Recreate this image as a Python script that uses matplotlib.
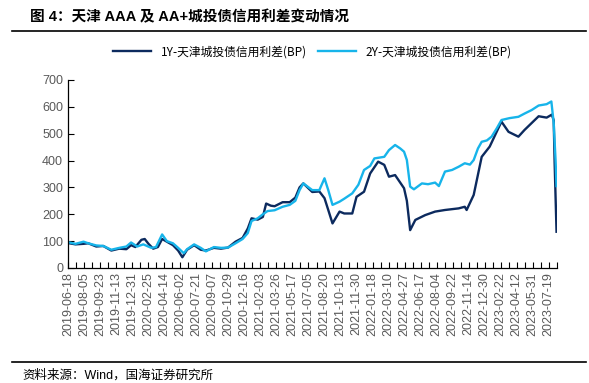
import numpy as np
import matplotlib.pyplot as plt

plt.rcParams['font.family'] = ['Liberation Sans', 'Noto Sans CJK SC']

# Données (index de jour de bourse, valeurs en BP)
jours_2y = [2, 15, 32, 42, 59, 74, 91, 108, 123, 133, 146, 159, 176, 186, 199, 209,
            222, 233, 245, 252, 267, 281, 292, 309, 324, 339, 355, 370, 381, 389,
            402, 413, 423, 438, 455, 470, 482, 491, 499, 518, 533, 544, 552, 561,
            576, 586, 603, 616, 628, 641, 650, 671, 681, 694, 705, 713, 719, 726,
            734, 751, 764, 779, 787, 800, 815, 829, 842, 853, 861, 870, 878, 889,
            899, 910, 920, 937, 956, 969, 984, 999, 1016, 1026, 1031, 1035, 1037]
spread_2y = [95, 90, 98, 92, 84, 82, 68, 75, 80, 95, 80, 88, 75, 78, 125, 100,
             92, 75, 55, 70, 88, 75, 62, 78, 75, 76, 92, 108, 130, 175,
             185, 200, 212, 215, 228, 235, 250, 290, 315, 290, 290, 334, 290, 235,
             247, 258, 278, 310, 365, 380, 408, 414, 439, 458, 445, 433, 402, 303,
             293, 315, 312, 318, 305, 359, 365, 377, 390, 385, 402, 445, 470, 475,
             489, 520, 551, 558, 563, 575, 588, 605, 610, 620, 540, 400, 305]

jours_1y = [2, 15, 32, 42, 59, 74, 91, 108, 123, 133, 142, 155, 162, 170, 180, 190,
            199, 209, 222, 233, 242, 252, 267, 281, 292, 309, 324, 339, 355, 370,
            381, 389, 402, 413, 420, 430, 438, 455, 470, 482, 491, 499, 518, 533,
            544, 552, 561, 576, 586, 603, 612, 628, 641, 658, 671, 681, 694, 713,
            719, 726, 737, 758, 779, 800, 829, 842, 846, 861, 878, 895, 920, 935,
            956, 969, 999, 1016, 1027, 1031, 1033, 1037]
spread_1y = [92, 88, 90, 92, 80, 82, 65, 72, 70, 85, 78, 105, 108, 90, 72, 78,
             108, 98, 85, 65, 40, 68, 85, 68, 65, 75, 72, 76, 98, 112,
             147, 185, 180, 190, 240, 232, 230, 245, 245, 262, 300, 315, 283, 285,
             260, 216, 166, 210, 203, 203, 265, 284, 352, 396, 384, 340, 346, 297,
             250, 141, 179, 197, 210, 216, 222, 228, 216, 272, 414, 452, 545, 507,
             489, 514, 565, 560, 571, 550, 390, 135]

etiquettes = ['2019-06-18', '2019-08-05', '2019-09-23', '2019-11-13', '2019-12-31',
              '2020-02-25', '2020-04-14', '2020-06-02', '2020-07-21', '2020-09-07',
              '2020-10-29', '2020-12-16', '2021-02-03', '2021-03-26', '2021-05-17',
              '2021-07-05', '2021-08-20', '2021-10-13', '2021-11-30', '2022-01-18',
              '2022-03-10', '2022-04-27', '2022-06-17', '2022-08-04', '2022-09-22',
              '2022-11-14', '2022-12-30', '2023-02-22', '2023-04-12', '2023-05-31',
              '2023-07-19']
pas = 34

fig = plt.figure(figsize=(5.89, 3.83), dpi=100)
ax = fig.add_axes([68/589, 1-268/383, (557-68)/589, (268-80)/383])

ax.plot(jours_1y, spread_1y, color='#0c2a5e', lw=1.7, label='1Y-天津城投债信用利差(BP)')
ax.plot(jours_2y, spread_2y, color='#17b4ea', lw=1.7, label='2Y-天津城投债信用利差(BP)')

ax.set_xlim(-1, 1038)
ax.set_ylim(0, 700)
ax.set_yticks(np.arange(0, 701, 100))
ax.set_xticks(np.arange(len(etiquettes)) * pas)
ax.set_xticklabels(etiquettes, rotation=90)
ax.set_xticks(np.arange(len(etiquettes)) * pas + pas / 2, minor=True)
ax.tick_params(axis='both', which='both', direction='in', length=4, width=0.8,
               color='black', labelsize=9, labelcolor='#595959')
ax.tick_params(axis='x', pad=3)
for s in ['top', 'right']:
    ax.spines[s].set_visible(False)
for s in ['left', 'bottom']:
    ax.spines[s].set_linewidth(0.9)

ax.legend(loc='lower center', bbox_to_anchor=(0.5, 1.09), ncol=2, frameon=False,
          handlelength=3.2, columnspacing=1.0, borderaxespad=0,
          prop={'family': ['Noto Sans CJK SC'], 'size': 8.5})

fig.text(30/589, 1-17/383, '图 4：天津 AAA 及 AA+城投债信用利差变动情况', fontsize=10.5,
         fontweight='bold', va='center', ha='left')
fig.add_artist(plt.Line2D([12/589, 586/589], [1-31/383, 1-31/383], color='black', lw=1.2))
fig.add_artist(plt.Line2D([12/589, 586/589], [1-362/383, 1-362/383], color='black', lw=1.2))
fig.text(22/589, 1-375/383, '资料来源：Wind，国海证券研究所', fontsize=9, va='center', ha='left')

fig.savefig('out.png', dpi=100)
